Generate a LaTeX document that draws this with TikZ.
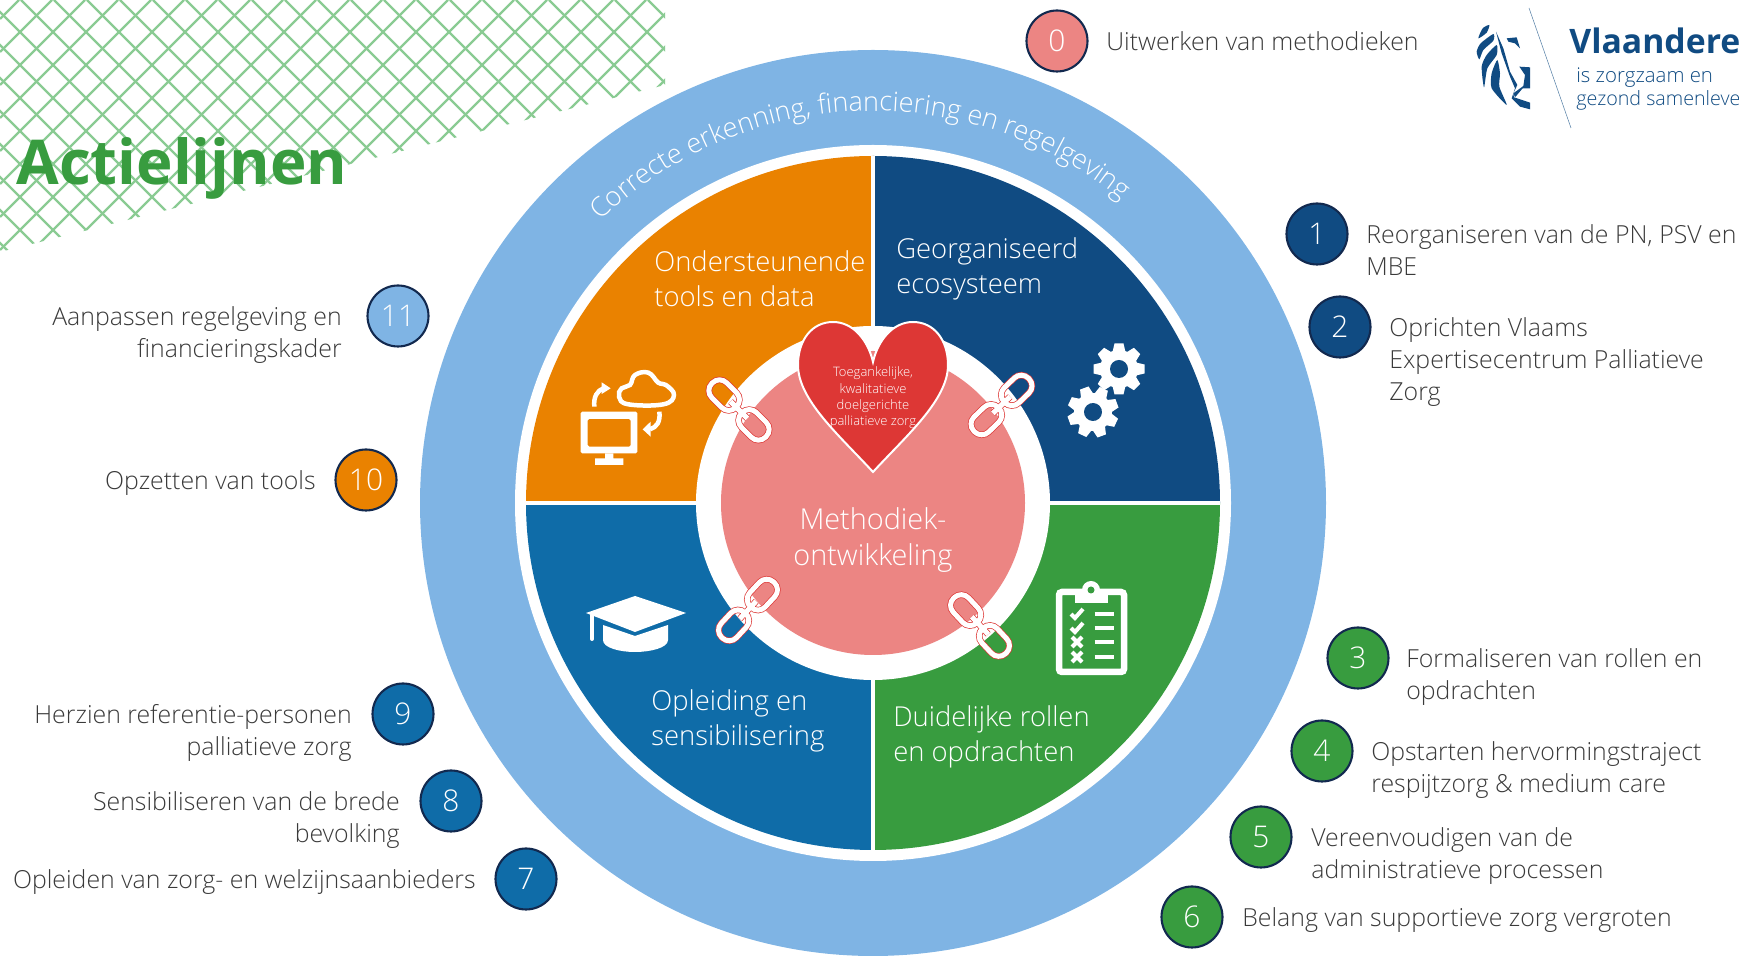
\documentclass[tikz,border=0pt]{standalone}
\usepackage{fontspec}
\setmainfont{Open Sans}[UprightFont=* Light]
\newfontfamily\titlefont{Open Sans}
\usetikzlibrary{decorations.text}

\definecolor{sectorOrange}{HTML}{EA8200}
\definecolor{sectorNavy}{HTML}{104B82}
\definecolor{sectorBlue}{HTML}{0F6CA8}
\definecolor{sectorGreen}{HTML}{389C3F}
\definecolor{ringBlue}{HTML}{7FB4E4}
\definecolor{corePink}{HTML}{EC8583}
\definecolor{heartRed}{HTML}{DD3735}
\definecolor{hatchGreen}{HTML}{8ACB93}
\definecolor{circleEdge}{HTML}{12294F}
\definecolor{labelGrey}{HTML}{3A3A3A}

\tikzset{
	flip/.style={shift={(0,957)},y=-0.02cm},
	crop/.style 2 args={shift={(#1,#2)},x=0.00667cm,y=-0.00667cm},
	numcircle/.style={circle,draw=circleEdge,line width=1.2pt,minimum size=1.22cm,inner sep=0pt,
		text=white,font=\fontsize{17}{20}\selectfont},
	actionlabel/.style={inner sep=0pt,text=labelGrey,font=\fontsize{14.15}{18.2}\selectfont},
	sectorlabel/.style={inner sep=0pt,text=white,align=left,anchor=north west,
		font=\fontsize{15.6}{20}\selectfont},
	chainlink/.pic={
		\draw[draw=heartRed,double=white,line width=0.4pt,double distance=0.1cm,rounded corners=0.2cm]
			(-38,-10.5) rectangle (-4,10.5) (4,-10.5) rectangle (38,10.5) (-12,0)--(12,0);
	},
	gearicon/.pic={
		\fill[white] (0,0) circle[radius=19];
		\foreach \a in {0,45,...,315}{
			\fill[white,rotate=\a] (-6.5,-17)--(-4.5,-25.5)--(4.5,-25.5)--(6.5,-17)--cycle;
		}
		\fill[sectorNavy] (0,0) circle[radius=9];
	},
}

\begin{document}
\begin{tikzpicture}[x=0.02cm,y=0.02cm]

\useasboundingbox (0,0) rectangle (1739,957);

% hatching top left
\begin{scope}[flip]
\clip (0,0)--(665,0)--(665,85)--(0,252)--cycle;
\foreach \C in {0,...,28}{
	\draw[color=hatchGreen,line width=0.045cm] ({19+33*\C},0)--(0,{19+33*\C});
}
\foreach \D in {-9,...,20}{
	\draw[color=hatchGreen,line width=0.045cm] ({21+33*\D},0)--({321+33*\D},300);
}
\end{scope}

% the rings
\coordinate (c) at (873,454);
\fill[color=ringBlue] (c) circle[radius=453];
\fill[color=white] (c) circle[radius=358];

\foreach \A/\col in {90/sectorOrange,0/sectorNavy,180/sectorBlue,270/sectorGreen}{
	\fill[color=\col] (c)--++(\A:347) arc[start angle=\A,end angle={\A+90},radius=347]--cycle;
}

\draw[color=white,line width=0.08cm] (526,454)--(1220,454);
\draw[color=white,line width=0.08cm] (873,107)--(873,801);

\fill[color=white] (c) circle[radius=177];
\fill[color=corePink] (c) circle[radius=152];

\coordinate (ringstart) at ([shift={(138:392)}]c);
\path[decorate,decoration={text along path,text align=center,
	text={|\color{white}\fontsize{15.4}{17}\selectfont|Correcte erkenning, financiering en regelgeving}}]
	(ringstart) arc[start angle=138,end angle=46.6,radius=392];

\begin{scope}[flip]

% title
\node[anchor=base west,inner sep=0pt,text=sectorGreen,font=\titlefont\bfseries\fontsize{35.2}{38}\selectfont]
	(title) at (16,185) {Actielijnen};

% heart
\draw[color=white,fill=heartRed,line width=0.04cm] (873,472)
	.. controls (840,436) and (798,400) .. (798,365)
	.. controls (798,340) and (812,322) .. (833,322)
	.. controls (853,322) and (868,340) .. (873,362)
	.. controls (878,340) and (893,322) .. (913,322)
	.. controls (934,322) and (948,340) .. (948,365)
	.. controls (948,400) and (906,436) .. (873,472)--cycle;
\node[align=center,inner sep=0pt,text=white,font=\fontsize{7.4}{9.3}\selectfont]
	(heartlabel) at (873,398) {Toegankelijke,\\kwalitatieve\\doelgerichte\\palliatieve zorg};

\node[align=center,inner sep=0pt,text=white,font=\fontsize{16.4}{20}\selectfont]
	(corelabel) at (873,540) {Methodiek-\\ontwikkeling};

% sectors
\node[sectorlabel] (orangelabel) at (654,250) {Ondersteunende\\tools en data};
\node[sectorlabel] (navylabel) at (896,237) {Georganiseerd\\ecosysteem};
\node[sectorlabel] (greenlabel) at (893,705) {Duidelijke rollen\\en opdrachten};
\node[sectorlabel] (bluelabel) at (651,689) {Opleiding en\\sensibilisering};

% chains
\pic[rotate=-45] at (739,410) {chainlink};
\pic[rotate=44] at (1001.5,405) {chainlink};
\pic[rotate=47] at (748,610) {chainlink};
\pic[rotate=-47] at (980,625.5) {chainlink};

% gears
\pic at (1119,369) {gearicon};
\pic[rotate=20] at (1093,412) {gearicon};

% monitor and cloud
\begin{scope}[crop={560}{350}]
\fill[color=white,even odd rule,rounded corners=0.03cm] (62,185) rectangle (232,310) (83,207) rectangle (212,290);
\fill[color=white] (135,310) rectangle (160,325) (105,325) rectangle (190,345);
\draw[color=white,line width=0.09cm] plot[smooth cycle,tension=0.7] coordinates
	{(205,163) (310,163) (342,135) (318,105) (295,98) (265,68) (225,75) (210,105) (185,115) (177,140)};
\draw[color=white,line width=0.09cm] (103,170) .. controls (100,140) and (112,122) .. (130,115);
\fill[color=white] (125,97)--(152,115)--(125,132)--cycle;
\draw[color=white,line width=0.09cm] (298,185) .. controls (302,215) and (290,232) .. (270,238);
\fill[color=white] (272,215)--(248,238)--(272,260)--cycle;
\end{scope}

% cap
\fill[color=white] (586,613)--(635,596)--(686,613)--(635,632)--cycle;
\fill[color=white] (603,625)--(635,636)--(668,625)--(668,640)
	.. controls (668,648) and (650,652) .. (635,652)
	.. controls (620,652) and (603,648) .. (603,640)--cycle;
\draw[color=white,line width=0.08cm,line cap=round] (592,615)--(592,639);

% clipboard
\draw[color=white,line width=0.13cm,rounded corners=0.06cm] (1059,592) rectangle (1124,672);
\fill[color=white] (1075,589) rectangle (1108,603);
\fill[color=white] (1091,590) circle[radius=9];
\fill[color=sectorGreen] (1091,590) circle[radius=3.5];
\foreach \R in {614,628,642,657}{
	\draw[color=white,line width=0.09cm] (1094.6,\R)--(1114,\R);
}
\foreach \R in {614,628}{
	\draw[color=white,line width=0.08cm] (1071,\R)--(1075,{\R+4})--(1083,{\R-5});
}
\foreach \R in {642,657}{
	\draw[color=white,line width=0.08cm] (1072,{\R-5})--(1082,{\R+5}) (1072,{\R+5})--(1082,{\R-5});
}

% numbered circles, labels to the right
\foreach \nr/\cx/\cy/\fc/\lx/\txt in {
	0/1057/41/corePink/1106/{Uitwerken van methodieken},
	1/1317/234/sectorNavy/1366/{Reorganiseren van de PN, PSV en\\MBE},
	2/1340/327/sectorNavy/1389/{Oprichten Vlaams\\Expertisecentrum Palliatieve\\Zorg},
	3/1358/658/sectorGreen/1406/{Formaliseren van rollen en\\opdrachten},
	4/1322/751/sectorGreen/1371/{Opstarten hervormingstraject\\respijtzorg \& medium care},
	5/1261/837/sectorGreen/1311/{Vereenvoudigen van de\\administratieve processen},
	6/1192/917/sectorGreen/1242/{Belang van supportieve zorg vergroten}}{
	\node[numcircle,fill=\fc] (num\nr) at (\cx,\cy) {\nr};
	\node[actionlabel,align=left,anchor=north west] (lab\nr) at (\lx,{\cy-10}) {\txt};
}

% numbered circles, labels to the left
\foreach \nr/\cx/\cy/\fc/\lx/\txt in {
	7/526/879/sectorBlue/476/{Opleiden van zorg- en welzijnsaanbieders},
	8/451/801/sectorBlue/400/{Sensibiliseren van de brede\\bevolking},
	9/403/714/sectorBlue/352/{Herzien referentie-personen\\palliatieve zorg},
	10/366/480/sectorOrange/316/{Opzetten van tools},
	11/398/316/ringBlue/342/{Aanpassen regelgeving en\\financieringskader}}{
	\node[numcircle,fill=\fc] (num\nr) at (\cx,\cy) {\nr};
	\node[actionlabel,align=right,anchor=north east] (lab\nr) at (\lx,{\cy-10}) {\txt};
}

% logo
\begin{scope}[crop={1460}{10}]
\fill[color=sectorNavy] plot[smooth cycle,tension=0.4] coordinates {(88,45) (68,55) (55,85) (80,68)};
\fill[color=sectorNavy] plot[smooth cycle,tension=0.4] coordinates {(100,72) (62,100) (50,125) (58,148) (70,120) (100,92)};
\fill[color=sectorNavy] plot[smooth cycle,tension=0.4] coordinates {(110,105) (80,135) (65,170) (72,232) (82,175) (110,135)};
\fill[color=sectorNavy] plot[smooth cycle,tension=0.4] coordinates {(112,150) (95,190) (95,235) (140,285) (118,230) (120,190)};
\fill[color=sectorNavy] (108,65)--(130,115)--(150,185)--(172,225)--(160,250)--(162,262)
	--(210,278)--(210,298)--(180,290)--(155,265)--(165,235)--(150,200)--(125,130)--cycle;
\fill[color=sectorNavy] (178,170)--(210,172)--(210,235)--(188,235)--(165,262)--(160,250)--(190,228)--(195,195)--cycle;
\fill[color=sectorNavy] (140,85)--(170,82)--(180,115)--(165,100)--(145,95)--cycle;
\draw[color=sectorNavy!70,line width=0.3pt] (207,-6)--(333,354);
\end{scope}
\node[anchor=base west,inner sep=0pt,text=sectorNavy,font=\titlefont\bfseries\fontsize{19.2}{24}\selectfont]
	(logotitle) at (1569,54) {Vlaandere};
\node[anchor=base west,inner sep=0pt,text=sectorNavy,font=\fontsize{11.6}{12.5}\selectfont]
	(logoline) at (1576,83) {is zorgzaam en};
\node[anchor=base west,inner sep=0pt,text=sectorNavy,font=\fontsize{11.2}{12.5}\selectfont]
	(logolinetwo) at (1576,106) {gezond samenleve};

\end{scope}

\end{tikzpicture}
\end{document}
